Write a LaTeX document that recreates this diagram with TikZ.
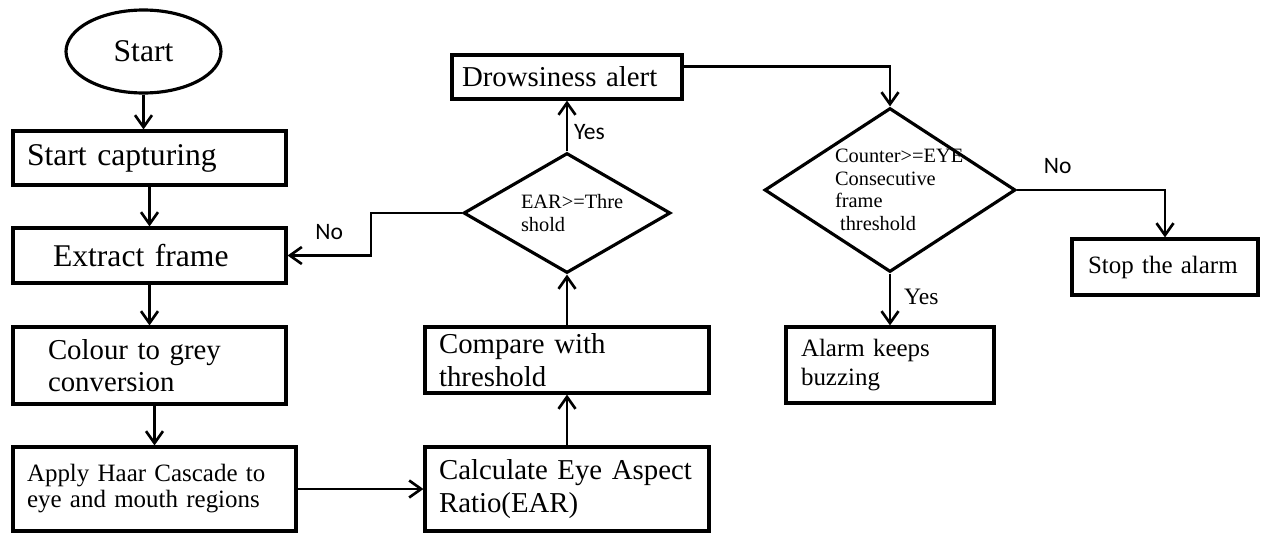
\documentclass[tikz,border=0pt]{standalone}
\usepackage{fontspec}
\setmainfont{Liberation Serif}
\newfontfamily\labelsans{Carlito}
\usetikzlibrary{arrows.meta, shapes.geometric}
\newcommand{\fbig}{\fontsize{18}{20}\selectfont}
\newcommand{\fmid}{\fontsize{16.4}{18.5}\selectfont}
\newcommand{\fsmall}{\fontsize{14.2}{16.4}\selectfont}
\newcommand{\fhaar}{\fontsize{14.2}{14.8}\selectfont}
\newcommand{\fdia}{\fontsize{11.6}{12.9}\selectfont}

\begin{document}
\begin{tikzpicture}[x=0.02cm, y=-0.02cm, >={Straight Barb[length=2.4mm, width=3.4mm]},
  proc/.style={draw, rectangle, line width=1.8pt, align=left, inner ysep=0pt},
  decide/.style={draw, diamond, line width=1.8pt, inner sep=0pt, align=left, font=\fdia},
  flow/.style={->, line width=1.5pt},
  yesno/.style={font=\labelsans\fontsize{13.4}{13.4}\selectfont}]
\useasboundingbox (0,0) rectangle (1263,534);
% —— left column ——
\node[draw, ellipse, line width=1.8pt, minimum width=3.1cm, minimum height=1.66cm, inner sep=0pt, font=\fbig] (start) at (143.5,51.5){Start};
\node[proc, font=\fbig, minimum height=1.08cm, text width=4.9cm, inner xsep=0.28cm] (capture) at (149.5,158){Start capturing};
\node[proc, font=\fbig, minimum height=1.1cm, text width=3.86cm, inner xsep=0.8cm] (frame) at (149.5,255.5){Extract frame};
\node[proc, font=\fmid, minimum height=1.54cm, text width=4.06cm, inner xsep=0.7cm] (grey) at (149.5,365.5){Colour to grey\\conversion};
\node[proc, font=\fhaar, minimum height=1.68cm, text width=5.1cm, inner xsep=0.28cm] (haar) at (154.5,489){Apply Haar Cascade to\\eye and mouth regions};
% —— middle column ——
\node[proc, font=\fmid, minimum height=1.68cm, text width=5.12cm, inner xsep=0.28cm] (ratio) at (567,489){Calculate Eye Aspect\\Ratio(EAR)};
\node[proc, font=\fmid, minimum height=1.32cm, text width=5.12cm, inner xsep=0.28cm] (compare) at (567,360){Compare with\\threshold};
\node[decide, minimum width=4.14cm, minimum height=2.4cm, aspect=1.725, text width=1.84cm] (check) at (567,213){EAR>=Thre\\shold};
\node[proc, font=\fmid, minimum height=0.88cm, text width=4.2cm, inner xsep=0.2cm] (alert) at (567,77){Drowsiness alert};
% —— right column ——
\node[decide, minimum width=5.02cm, minimum height=3.28cm, aspect=1.53, text width=2.2cm] (counter) at (890,190){Counter>=EYE\\Consecutive\\frame\\\hspace*{0.25em}threshold};
\node[proc, font=\fsmall, minimum height=1.52cm, text width=3.56cm, inner xsep=0.3cm] (buzz) at (890,365){Alarm keeps\\buzzing};
\node[proc, font=\fsmall, minimum height=1.12cm, text width=3.08cm, inner xsep=0.32cm] (stop) at (1165,267){Stop the alarm};
% —— connectors ——
\draw[flow] (start) -- (start.south |- capture.north);
\draw[flow] (capture) -- (frame);
\draw[flow] (frame) -- (grey);
\draw[flow] (grey.south -| haar.north) -- (haar.north);
\draw[flow] (haar) -- (ratio);
\draw[flow] (ratio) -- (compare);
\draw[flow] (compare) -- (check);
\draw[flow] (check) -- node[pos=0.38, right, yesno]{Yes} (alert);
\draw[flow] (check.west) -- ++(-91,0) |- node[pos=0.75, above=5pt, yesno]{No} (frame.east);
% alert goes on to the counter test
\draw[flow] ([yshift=6pt]alert.east) -| (counter.north);
\draw[flow] (counter) -- node[pos=0.45, right=4pt, font=\fontsize{13.4}{13.4}\selectfont]{Yes} (buzz);
\draw[flow] (counter.east) -| node[pos=0.137, above=5pt, yesno]{No} (stop.north);
\end{tikzpicture}
\end{document}
